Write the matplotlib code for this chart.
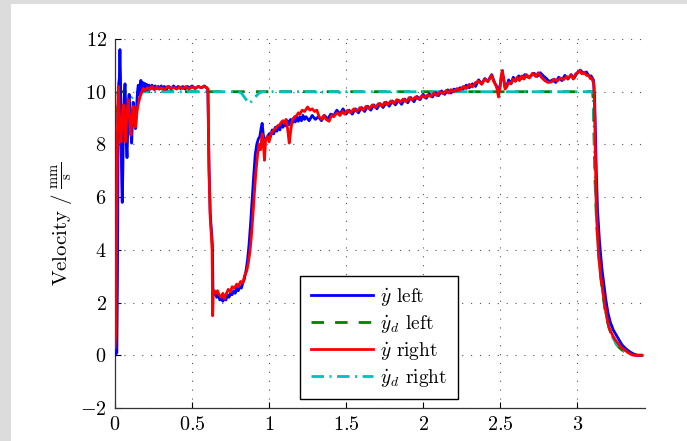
import matplotlib
matplotlib.use("Agg")
import matplotlib.pyplot as plt
from matplotlib.patches import Rectangle

plt.rcParams['mathtext.fontset'] = 'cm'
plt.rcParams['font.family'] = ['serif']
plt.rcParams['font.serif'] = ['cmr10', 'DejaVu Serif']
plt.rcParams['axes.unicode_minus'] = False
plt.rcParams['axes.formatter.use_mathtext'] = True

# ---------------- data ----------------
x_ticks = [0, 0.5, 1, 1.5, 2, 2.5, 3]
x_ticklabels = ['$0$', '$0.5$', '$1$', '$1.5$', '$2$', '$2.5$', '$3$']
y_ticks = [-2, 0, 2, 4, 6, 8, 10, 12]
y_ticklabels = ['$-2$', '$0$', '$2$', '$4$', '$6$', '$8$', '$10$', '$12$']

labels = [r'$\dot{y}$ left', r'$\dot{y}_d$ left',
          r'$\dot{y}$ right', r'$\dot{y}_d$ right']

blue_t = [0.000, 0.012, 0.016, 0.020, 0.024, 0.028, 0.032, 0.036, 0.040, 0.044, 0.047, 0.051, 0.055, 0.060,
          0.065, 0.070, 0.074, 0.078, 0.083, 0.088, 0.092, 0.098, 0.103, 0.108, 0.113, 0.118, 0.124, 0.129,
          0.133, 0.140, 0.146, 0.151, 0.156, 0.162, 0.168, 0.174, 0.18, 0.186, 0.192, 0.198, 0.205, 0.212,
          0.22, 0.23, 0.24, 0.25, 0.26, 0.27, 0.28, 0.29, 0.30, 0.31, 0.32, 0.335, 0.35, 0.365, 0.38, 0.395,
          0.41, 0.425, 0.44, 0.455, 0.47, 0.485, 0.50, 0.52, 0.54, 0.56, 0.58, 0.595, 0.603, 0.610, 0.618,
          0.626, 0.632, 0.636, 0.642, 0.65, 0.66, 0.67, 0.68, 0.69, 0.70, 0.71, 0.72, 0.73, 0.74, 0.75, 0.76,
          0.77, 0.78, 0.79, 0.80, 0.81, 0.82, 0.83, 0.84, 0.85, 0.86, 0.87, 0.88, 0.89, 0.90, 0.91, 0.92,
          0.93, 0.94, 0.948, 0.955, 0.962, 0.97, 0.98, 0.99, 1.00, 1.01, 1.02, 1.03, 1.04, 1.05, 1.06, 1.07,
          1.08, 1.09, 1.10, 1.11, 1.12, 1.13, 1.14, 1.15, 1.16, 1.17, 1.18, 1.19, 1.20, 1.21, 1.22, 1.23,
          1.24, 1.26, 1.28, 1.30, 1.32, 1.34, 1.36, 1.38, 1.40, 1.42, 1.44, 1.46, 1.48, 1.50, 1.52, 1.54,
          1.56, 1.58, 1.60, 1.62, 1.64, 1.66, 1.68, 1.70, 1.72, 1.74, 1.76, 1.78, 1.80, 1.82, 1.84, 1.86,
          1.88, 1.90, 1.92, 1.94, 1.96, 1.98, 2.00, 2.02, 2.04, 2.06, 2.08, 2.10, 2.12, 2.14, 2.16, 2.18,
          2.20, 2.22, 2.24, 2.26, 2.28, 2.30, 2.32, 2.34, 2.36, 2.38, 2.40, 2.42, 2.445, 2.457, 2.467, 2.478,
          2.489, 2.50, 2.507, 2.514, 2.522, 2.532, 2.542, 2.555, 2.57, 2.585, 2.60, 2.62, 2.64, 2.66, 2.68,
          2.70, 2.72, 2.74, 2.76, 2.78, 2.80, 2.82, 2.84, 2.86, 2.88, 2.90, 2.92, 2.94, 2.96, 2.98, 3.00,
          3.02, 3.04, 3.06, 3.075, 3.09, 3.105, 3.113, 3.118, 3.124, 3.132, 3.145, 3.16, 3.175, 3.186, 3.20,
          3.215, 3.235, 3.255, 3.275, 3.29, 3.31, 3.33, 3.35, 3.37, 3.39, 3.42]
blue_v = [0.0, 0.1, 3.0, 8.0, 10.3, 10.5, 11.6, 10.5, 8.0, 6.5, 5.8, 7.0, 9.0, 9.8,
          10.3, 9.3, 8.0, 7.5, 8.6, 9.7, 9.9, 9.2, 8.5, 8.05, 8.8, 9.6, 9.3, 8.8,
          8.6, 9.4, 10.0, 10.25, 9.9, 10.1, 10.43, 10.0, 10.35, 10.05, 10.32, 10.05, 10.28, 10.08,
          10.25, 10.1, 10.25, 10.1, 10.22, 10.12, 10.2, 10.1, 10.22, 10.12, 10.2, 10.1, 10.2, 10.1, 10.22, 10.12,
          10.2, 10.12, 10.2, 10.1, 10.2, 10.15, 10.22, 10.12, 10.2, 10.15, 10.22, 10.15, 10.1, 7.2, 5.4,
          4.7, 4.2, 2.5, 2.3, 2.4, 2.2, 2.3, 2.1, 2.15, 2.05, 2.2, 2.1, 2.3, 2.2, 2.35, 2.3,
          2.45, 2.35, 2.55, 2.45, 2.6, 2.55, 2.75, 2.9, 3.2, 3.6, 4.2, 5.0, 5.9, 6.8, 7.6, 8.0,
          8.2, 8.3, 8.6, 8.8, 8.4, 8.1, 8.2, 8.3, 8.4, 8.3, 8.55, 8.4, 8.65, 8.5, 8.7, 8.55,
          8.8, 8.65, 8.85, 8.7, 8.9, 8.75, 8.95, 8.8, 9.0, 8.85, 9.05, 8.88, 9.05, 8.9, 9.1, 8.95,
          9.05, 8.9, 9.1, 8.95, 9.05, 8.9, 9.1, 8.95, 9.15, 9.1, 9.3, 9.15, 9.35, 9.15, 9.3, 9.15,
          9.35, 9.2, 9.4, 9.25, 9.45, 9.3, 9.5, 9.35, 9.55, 9.4, 9.6, 9.45, 9.65, 9.5, 9.68, 9.52,
          9.72, 9.58, 9.78, 9.62, 9.82, 9.7, 9.9, 9.75, 9.92, 9.8, 9.97, 9.85, 10.03, 9.9, 10.07, 9.95,
          10.1, 10.05, 10.15, 10.1, 10.25, 10.15, 10.3, 10.2, 10.45, 10.3, 10.5, 10.4, 10.65, 10.45, 10.3, 10.2,
          9.95, 10.25, 10.55, 10.75, 10.5, 10.15, 10.2, 10.45, 10.3, 10.55, 10.4, 10.6, 10.5, 10.65, 10.55,
          10.6, 10.7, 10.58, 10.72, 10.6, 10.5, 10.38, 10.45, 10.35, 10.55, 10.42, 10.62, 10.48, 10.65, 10.52, 10.72,
          10.82, 10.7, 10.75, 10.6, 10.6, 10.45, 9.8, 8.5, 7.0, 5.5, 4.3, 3.3, 2.6, 2.1, 1.6,
          1.25, 0.95, 0.75, 0.55, 0.4, 0.28, 0.18, 0.1, 0.04, 0.0, 0.0]

red_t = [0.000, 0.006, 0.012, 0.018, 0.022, 0.028, 0.034, 0.039, 0.046, 0.054, 0.060, 0.069, 0.076, 0.086,
         0.094, 0.103, 0.110, 0.118, 0.126, 0.134, 0.142, 0.150, 0.162, 0.172, 0.183, 0.195, 0.21, 0.225,
         0.24, 0.255, 0.27, 0.285, 0.30, 0.32, 0.34, 0.36, 0.38, 0.40, 0.42, 0.44, 0.46, 0.48, 0.50, 0.52,
         0.54, 0.56, 0.58, 0.595, 0.603, 0.610, 0.618, 0.626, 0.630, 0.634, 0.638, 0.645, 0.655, 0.665,
         0.675, 0.69, 0.70, 0.71, 0.72, 0.735, 0.75, 0.76, 0.775, 0.79, 0.80, 0.815, 0.83, 0.84, 0.855,
         0.865, 0.875, 0.885, 0.895, 0.905, 0.915, 0.925, 0.935, 0.945, 0.955, 0.962, 0.970, 0.978, 0.99,
         1.00, 1.013, 1.025, 1.04, 1.055, 1.07, 1.08, 1.09, 1.10, 1.11, 1.12, 1.131, 1.14, 1.15, 1.165,
         1.18, 1.19, 1.20, 1.215, 1.23, 1.25, 1.265, 1.28, 1.295, 1.31, 1.325, 1.34, 1.355, 1.37, 1.39,
         1.405, 1.42, 1.44, 1.46, 1.476, 1.49, 1.51, 1.53, 1.55, 1.57, 1.59, 1.61, 1.63, 1.65, 1.67, 1.69,
         1.71, 1.734, 1.75, 1.77, 1.79, 1.81, 1.83, 1.85, 1.87, 1.89, 1.91, 1.93, 1.95, 1.97, 1.993, 2.01,
         2.03, 2.05, 2.07, 2.09, 2.11, 2.13, 2.15, 2.165, 2.18, 2.20, 2.22, 2.24, 2.26, 2.28, 2.30, 2.32,
         2.34, 2.36, 2.38, 2.40, 2.42, 2.445, 2.457, 2.467, 2.478, 2.489, 2.50, 2.507, 2.514, 2.522, 2.532,
         2.542, 2.555, 2.57, 2.585, 2.597, 2.61, 2.625, 2.64, 2.655, 2.67, 2.69, 2.71, 2.73, 2.747, 2.76,
         2.775, 2.79, 2.81, 2.833, 2.85, 2.87, 2.89, 2.91, 2.93, 2.94, 2.96, 2.975, 2.99, 3.005, 3.017,
         3.03, 3.045, 3.06, 3.075, 3.085, 3.095, 3.108, 3.114, 3.118, 3.122, 3.128, 3.137, 3.15, 3.165,
         3.178, 3.19, 3.206, 3.226, 3.245, 3.265, 3.285, 3.305, 3.325, 3.345, 3.365, 3.385, 3.42]
red_v = [0.3, 1.0, 6.0, 9.5, 10.2, 9.2, 8.5, 8.1, 8.9, 9.5, 8.8, 8.1, 9.0, 9.7,
         9.0, 8.35, 9.0, 9.45, 9.0, 8.65, 9.2, 9.5, 9.8, 9.95, 10.12, 10.05, 10.15, 10.1,
         10.2, 10.08, 10.18, 10.1, 10.15, 10.08, 10.2, 10.12, 10.16, 10.1, 10.18, 10.12, 10.2, 10.1, 10.18, 10.12,
         10.2, 10.15, 10.2, 10.15, 10.1, 7.0, 5.2, 4.5, 4.0, 1.5, 2.4, 2.45, 2.35, 2.45,
         2.3, 2.2, 2.35, 2.15, 2.3, 2.5, 2.4, 2.6, 2.55, 2.7, 2.6, 2.8, 2.75, 3.0, 3.2,
         3.5, 3.9, 4.5, 5.3, 6.2, 7.0, 7.6, 8.0, 7.8, 8.4, 8.1, 7.4, 8.2, 8.3,
         8.1, 8.4, 8.5, 8.6, 8.7, 8.75, 8.85, 8.9, 8.8, 8.95, 8.6, 8.05, 8.5, 8.9, 9.05,
         9.1, 9.2, 9.15, 9.3, 9.25, 9.42, 9.3, 9.35, 9.25, 9.3, 9.05, 8.95, 9.1, 8.95, 8.88,
         9.1, 9.05, 9.2, 9.1, 9.25, 9.15, 9.3, 9.2, 9.35, 9.25, 9.4, 9.3, 9.45, 9.35, 9.5, 9.4,
         9.55, 9.45, 9.6, 9.5, 9.65, 9.55, 9.7, 9.6, 9.72, 9.62, 9.78, 9.68, 9.8, 9.72, 9.85, 9.78,
         9.88, 9.82, 9.95, 9.85, 10.0, 9.92, 10.05, 9.95, 10.08, 10.0, 10.12, 10.05, 10.2, 10.12, 10.28, 10.18,
         10.35, 10.4, 10.28, 10.48, 10.38, 10.62, 10.4, 10.3, 10.15, 9.8, 10.2, 10.6, 10.81, 10.5, 10.1,
         10.18, 10.35, 10.3, 10.48, 10.4, 10.55, 10.42, 10.6, 10.48, 10.65, 10.52, 10.7, 10.58, 10.72, 10.6,
         10.5, 10.42, 10.35, 10.37, 10.48, 10.4, 10.52, 10.45, 10.58, 10.5, 10.62, 10.48, 10.68, 10.72, 10.8,
         10.68, 10.74, 10.62, 10.62, 10.5, 10.5, 10.3, 9.0, 7.5, 6.0, 5.0, 3.97, 3.1, 2.5,
         1.95, 1.5, 1.05, 0.8, 0.6, 0.45, 0.3, 0.22, 0.12, 0.05, 0.0, 0.0, 0.0]

green_t = [0.0, 0.003, 0.008, 0.015, 0.02, 3.10, 3.105, 3.108, 3.112, 3.118, 3.125, 3.135, 3.15,
           3.165, 3.18, 3.195, 3.21, 3.228, 3.248, 3.268, 3.288, 3.308, 3.328, 3.348, 3.368, 3.39, 3.42]
green_v = [0.0, 2.0, 6.0, 9.2, 10.0, 10.0, 9.6, 8.6, 7.4, 6.2, 5.1, 4.1, 3.1,
           2.35, 1.75, 1.3, 0.98, 0.68, 0.47, 0.32, 0.21, 0.13, 0.08, 0.04, 0.02, 0.0, 0.0]

cyan_t = [0.0, 0.004, 0.01, 0.016, 0.025, 0.04, 0.06, 0.08, 0.10, 0.12, 0.15, 0.80, 0.82, 0.845,
          0.87, 0.89, 0.91, 0.935, 0.96, 1.30, 1.325, 1.35, 1.45, 1.47, 1.49, 3.10, 3.106, 3.11,
          3.114, 3.12, 3.127, 3.137, 3.152, 3.167, 3.182, 3.197, 3.212, 3.23, 3.25, 3.27, 3.29,
          3.31, 3.33, 3.35, 3.37, 3.39, 3.42]
cyan_v = [0.0, 3.0, 8.0, 9.6, 9.5, 9.4, 9.45, 9.55, 9.7, 9.85, 10.0, 10.0, 9.95, 9.75,
          9.55, 9.65, 9.8, 9.95, 10.0, 10.0, 9.9, 10.0, 10.0, 9.92, 10.0, 10.0, 9.6, 8.6,
          7.4, 6.2, 5.1, 4.1, 3.1, 2.35, 1.75, 1.3, 0.98, 0.68, 0.47, 0.32, 0.21,
          0.13, 0.08, 0.04, 0.02, 0.0, 0.0]

# ---------------- figure ----------------
fig = plt.figure(figsize=(6.87, 4.41), dpi=100, facecolor='white')
fig.patches.append(Rectangle((0, 0), 11 / 687, 1, transform=fig.transFigure,
                             facecolor='#dcdcdc', edgecolor='none', zorder=0))
fig.patches.append(Rectangle((0, 1 - 4 / 441), 1, 4 / 441, transform=fig.transFigure,
                             facecolor='#dcdcdc', edgecolor='none', zorder=0))

ax = fig.add_axes([115 / 687, 1 - 408 / 441, (645 - 115) / 687, (408 - 39) / 441])

l1, = ax.plot(blue_t, blue_v, color='#0000ff', lw=2.0, zorder=3)
l2, = ax.plot(green_t, green_v, color='#008000', lw=2.0, dashes=(4.5, 4), zorder=2)
l3, = ax.plot(red_t, red_v, color='#ff0000', lw=2.0, zorder=4)
l4, = ax.plot(cyan_t, cyan_v, color='#00bfbf', lw=2.0, dashes=(4.5, 2, 0.7, 2), zorder=2)

ax.set_xlim(0, 3.44)
ax.set_ylim(-2, 12)
ax.set_xticks(x_ticks)
ax.set_xticklabels(x_ticklabels)
ax.set_yticks(y_ticks)
ax.set_yticklabels(y_ticklabels)
ax.tick_params(direction='in', length=4, width=0.8, labelsize=14.5, pad=6,
               top=False, right=False)
for s in ['top', 'right']:
    ax.spines[s].set_visible(False)
for s in ['left', 'bottom']:
    ax.spines[s].set_linewidth(0.9)
    ax.spines[s].set_color('#333333')

ax.grid(True, linestyle=(0, (1, 7)), color='#555555', linewidth=0.8)
ax.set_axisbelow(True)

ax.set_ylabel(r'$\mathrm{Velocity}\ /\ \frac{\mathrm{mm}}{\mathrm{s}}$', fontsize=15, labelpad=4)

leg = ax.legend([l1, l2, l3, l4], labels, loc='center',
                bbox_to_anchor=(379 / 687, 1 - 337.5 / 441), bbox_transform=fig.transFigure,
                fontsize=14, frameon=True, fancybox=False, framealpha=1,
                edgecolor='black', handlelength=3.2, labelspacing=0.25,
                borderpad=0.55, handletextpad=0.35)
leg.get_frame().set_linewidth(1.0)

fig.savefig('out.png', dpi=100, facecolor='white')
